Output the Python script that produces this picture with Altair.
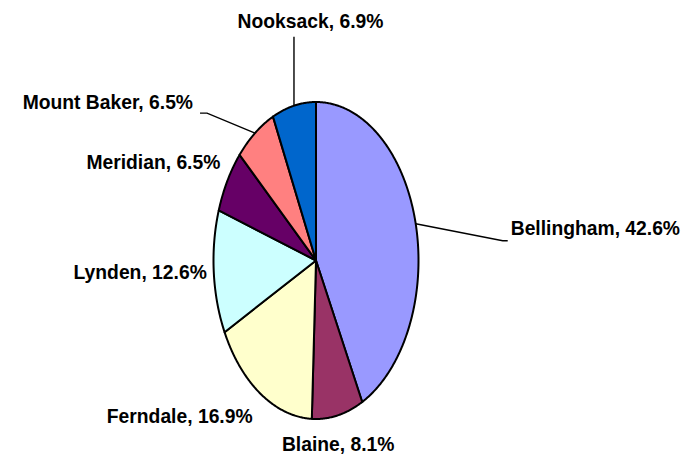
import math
import altair as alt
import pandas as pd

# ---- data ----
towns = ["Bellingham", "Blaine", "Ferndale", "Lynden", "Meridian", "Mount Baker", "Nooksack"]
shares = [42.6, 8.1, 16.9, 12.6, 6.5, 6.5, 6.9]
colors = ["#9999FF", "#993366", "#FFFFCC", "#CCFFFF", "#660066", "#FF8080", "#0066CC"]

# ---- layout (pixels) ----
W, H = 694, 459
CX, CY, RX, RY = 316, 260.5, 102.5, 158.5
label_offset = [(95, 11), (0.5, 36), (-8, 29), (-7, 7), (-7, -12), (-62, -24), (16.5, -78)]
label_align = ["left", "center", "right", "right", "right", "right", "center"]
leader_pts = {
    "Bellingham": [(-8, 6), (-3, 6)],
    "Mount Baker": [(14, 4), (7, 4)],
    "Nooksack": [(-16.5, 9)],
}
FONT = "Liberation Sans"
FSIZE = 19.3

total = sum(shares)


def ell(a):
    return CX + RX * math.sin(a), CY - RY * math.cos(a)


slice_rows, label_rows, leader_rows = [], [], []
cum = 0.0
for k, (t, v) in enumerate(zip(towns, shares)):
    a0 = cum / total * 2 * math.pi
    a1 = (cum + v) / total * 2 * math.pi
    cum += v
    n = max(2, int(math.degrees(a1 - a0) / 0.5))
    pts = [(CX, CY)] + [ell(a0 + (a1 - a0) * j / n) for j in range(n + 1)] + [(CX, CY)]
    for i, (x, y) in enumerate(pts):
        slice_rows.append({"town": t, "i": i, "x": x, "y": y})
    am = (a0 + a1) / 2
    ex, ey = ell(am)
    lx, ly = ex + label_offset[k][0], ey + label_offset[k][1]
    label_rows.append({"town": t, "label": f"{t}, {v}%", "x": lx, "y": ly, "align": label_align[k]})
    if t in leader_pts:
        chain = [(ex, ey)] + [(lx + dx, ly + dy) for dx, dy in leader_pts[t]]
        for i, (x, y) in enumerate(chain):
            leader_rows.append({"town": t, "i": i, "x": x, "y": y})

slices = pd.DataFrame(slice_rows)
labels = pd.DataFrame(label_rows)
leaders = pd.DataFrame(leader_rows)

xs = alt.Scale(domain=[0, W], nice=False, zero=False)
ys = alt.Scale(domain=[0, H], nice=False, zero=False, reverse=True)

pie = alt.Chart(slices).mark_line(stroke="black", strokeWidth=2, strokeJoin="round").encode(
    x=alt.X("x:Q", scale=xs, axis=None),
    y=alt.Y("y:Q", scale=ys, axis=None),
    fill=alt.Fill("town:N", scale=alt.Scale(domain=towns, range=colors), legend=None),
    detail="town:N",
    order="i:Q",
)

lead = alt.Chart(leaders).mark_line(stroke="black", strokeWidth=1.4).encode(
    x=alt.X("x:Q", scale=xs, axis=None),
    y=alt.Y("y:Q", scale=ys, axis=None),
    detail="town:N",
    order="i:Q",
)

text_layers = []
for al in ["left", "center", "right"]:
    text_layers.append(
        alt.Chart(labels).transform_filter(alt.datum.align == al).mark_text(
            font=FONT, fontWeight="bold", fontSize=FSIZE, align=al, baseline="alphabetic", color="black"
        ).encode(
            x=alt.X("x:Q", scale=xs, axis=None),
            y=alt.Y("y:Q", scale=ys, axis=None),
            text="label:N",
        )
    )

chart = alt.layer(pie, lead, *text_layers).properties(
    width=W, height=H, padding=0, autosize="none", background="white"
).configure_view(stroke=None)

chart.save("out.html", embed_options={"renderer": "svg", "actions": False})
